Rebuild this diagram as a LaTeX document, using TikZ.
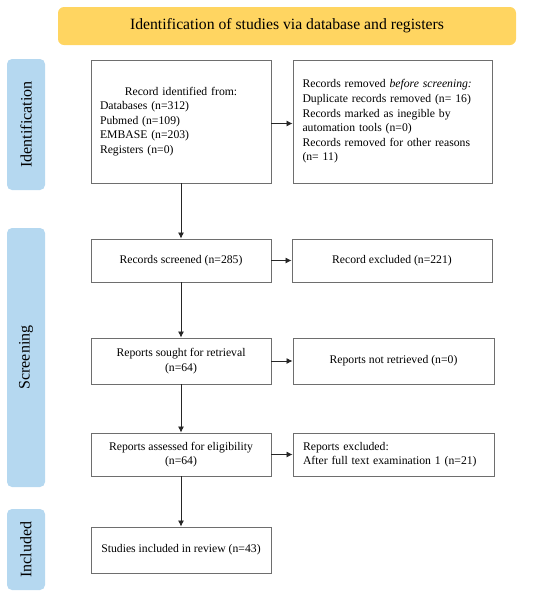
\documentclass[tikz,border=0pt]{standalone}
\usepackage{fontspec}
\setmainfont{Liberation Serif}
\usetikzlibrary{arrows.meta}
\definecolor{hdryellow}{HTML}{FFD561}
\definecolor{sideblue}{HTML}{B5D8F0}
\definecolor{boxgray}{HTML}{6E6E6E}
\tikzset{
  x=1pt, y=-1pt,
  stagebox/.style={draw=boxgray, line width=0.9pt, fill=white, inner sep=0pt,
    font=\fontsize{11.7}{14.6}\selectfont},
  sidebar/.style={fill=sideblue, rounded corners=5pt},
  sidelabel/.style={font=\fontsize{16}{18}\selectfont, rotate=90},
  flow/.style={-{Latex[length=6pt,width=6pt]}, line width=0.8pt, draw=black!85}
}
\begin{document}
\begin{tikzpicture}
\useasboundingbox (0,0) rectangle (550,598);
% header
\node[fill=hdryellow, rounded corners=6pt, minimum width=458pt, minimum height=38pt,
  font=\fontsize{15.7}{18}\selectfont] (hdr) at (287,26) {Identification of studies via database and registers};
% side bars
\fill[sidebar] (7,59) rectangle (45,190);
\node[sidelabel] (lid) at (26,124.5) {Identification};
\fill[sidebar] (7,228) rectangle (45,487);
\node[sidelabel] (lsc) at (26,357.5) {Screening};
\fill[sidebar] (7,509) rectangle (45,590);
\node[sidelabel] (lin) at (26,549.5) {Included};
% boxes
\node[stagebox, minimum width=180pt, minimum height=123pt, text width=162pt, align=left] (b1) at (181,121.5)
  {\makebox[162pt][c]{Record identified from:}\\ Databases (n=312)\\ Pubmed (n=109)\\ EMBASE (n=203)\\ Registers (n=0)};
\node[stagebox, minimum width=199pt, minimum height=123pt, text width=180pt, align=left] (b2) at (392.5,121.5)
  {Records removed \emph{before screening:}\\ Duplicate records removed (n= 16)\\ Records marked as inegible by\\ automation tools (n=0)\\ Records removed for other reasons\\ (n= 11)};
\node[stagebox, minimum width=180pt, minimum height=43pt, align=center] (b3) at (181,260.5) {Records screened (n=285)};
\node[stagebox, minimum width=200pt, minimum height=43pt, align=center] (b4) at (392,260.5) {Record excluded (n=221)};
\node[stagebox, minimum width=180pt, minimum height=46pt, align=center] (b5) at (181,361) {Reports sought for retrieval\\ (n=64)};
\node[stagebox, minimum width=201pt, minimum height=46pt, align=center] (b6) at (393.5,361) {Reports not retrieved (n=0)};
\node[stagebox, minimum width=180pt, minimum height=43pt, align=center] (b7) at (181,454.5) {Reports assessed for eligibility\\ (n=64)};
\node[stagebox, minimum width=201pt, minimum height=43pt, text width=181pt, align=left] (b8) at (393.5,454.5) {Reports excluded:\\ After full text examination 1 (n=21)};
\node[stagebox, minimum width=180pt, minimum height=46pt, align=center] (b9) at (181,550) {Studies included in review (n=43)};
% connectors
\draw[flow] (b1) -- (b3);
\draw[flow] (b3) -- (b5);
\draw[flow] (b5) -- (b7);
\draw[flow] (b7) -- (b9);
\draw[flow] (b1.east) ++(0,2) coordinate (a1) -- (a1 -| b2.west);
\draw[flow] (b3) -- (b4);
\draw[flow] (b5) -- (b6);
\draw[flow] (b7) -- (b8);
\end{tikzpicture}
\end{document}
